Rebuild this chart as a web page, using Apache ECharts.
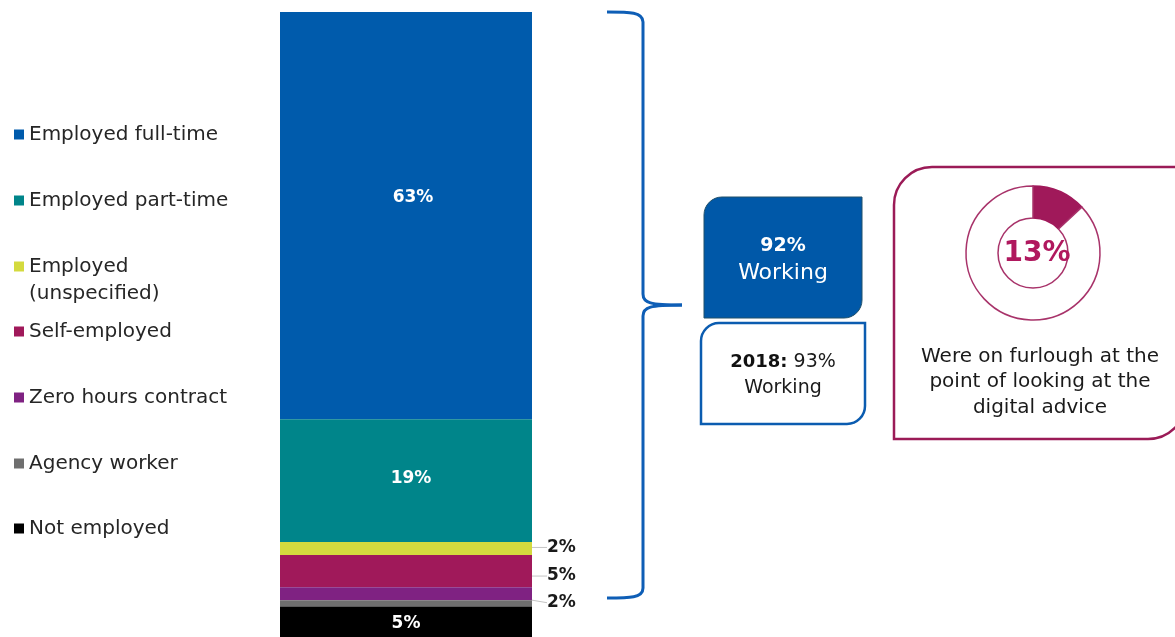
<!DOCTYPE html>
<html>
<head>
<meta charset="utf-8">
<title>Employment status</title>
<script src="https://cdn.jsdelivr.net/npm/echarts@6/dist/echarts.min.js"></script>
<style>
  html, body { margin: 0; padding: 0; background: #ffffff; }
  #chart { width: 1175px; height: 637px; }
</style>
</head>
<body>
<div id="chart"></div>
<script>
// Employment status of users (share of respondents, %)
const categories = ['All users'];
const statusNames = [
  'Employed full-time',
  'Employed part-time',
  'Employed (unspecified)',
  'Self-employed',
  'Zero hours contract',
  'Agency worker',
  'Not employed'
];
const statusShares = [63, 19, 2, 5, 2, 1, 5];
const statusColors = ['#005BAC', '#00858A', '#D4DA3E', '#A0195A', '#7F2282', '#6F6F6F', '#000000'];

// Headline figures shown beside the bar
const workingNow = 92;
const working2018 = 93;
const furloughShare = [13, 87];

const FONT = '"DejaVu Sans", sans-serif';
const chart = echarts.init(document.getElementById('chart'), null, { renderer: 'canvas' });

// label placement per segment: big segments inside, thin ones outside with a guide line
const outsideShift = {
  'Employed (unspecified)': { dx: 10, dy: -1 },
  'Self-employed': { dx: 10, dy: 5 },
  'Zero hours contract': { dx: 10, dy: 9 }
};
const insideOffset = {
  'Employed full-time': [7, -18],
  'Employed part-time': [5, -2],
  'Not employed': [0, 2]
};

const series = statusNames.map((name, i) => {
  const inside = insideOffset[name];
  const outside = outsideShift[name];
  const s = {
    name: name,
    type: 'bar',
    stack: 'status',
    barWidth: '100%',
    data: [statusShares[i]],
    itemStyle: { color: statusColors[i] },
    silent: true,
    label: { show: false }
  };
  if (inside) {
    s.label = {
      show: true, position: 'inside', offset: inside, formatter: '{c}%',
      color: '#ffffff', fontFamily: FONT, fontWeight: 'bold', fontSize: 17
    };
  } else if (outside) {
    s.label = {
      show: true, position: 'right', distance: 5, formatter: '{c}%',
      color: '#1a1a1a', fontFamily: FONT, fontWeight: 'bold', fontSize: 17
    };
    s.labelLayout = { dx: outside.dx, dy: outside.dy };
    s.labelLine = { show: true, lineStyle: { color: '#c4c4c4', width: 1 } };
  }
  return s;
});

// one legend block per entry so each row sits at its own height
const legendCenters = [134, 200, 266, 331, 397, 463, 528];
const legends = statusNames.map((name, i) => {
  const multi = name === 'Employed (unspecified)';
  return {
    data: [name],
    orient: 'vertical',
    left: 14,
    top: multi ? legendCenters[i] - 40 : legendCenters[i] - 13,
    padding: 0,
    itemWidth: 10,
    itemHeight: 10,
    icon: 'rect',
    selectedMode: false,
    // an empty first line keeps the marker level with "Employed"
    formatter: multi ? '\nEmployed\n(unspecified)' : '{name}',
    textStyle: { fontFamily: FONT, fontSize: 20, color: '#262626', lineHeight: 27 }
  };
});

series.push({
  type: 'pie',
  center: [1033, 253],
  radius: [35, 67],
  startAngle: 90,
  clockwise: true,
  silent: true,
  labelLine: { show: false },
  data: [
    {
      value: furloughShare[0], name: 'On furlough',
      itemStyle: { color: '#A0195A', borderColor: '#A0195A', borderWidth: 1.5 },
      label: {
        show: true, position: 'center', formatter: '{c}%', offset: [4, 1],
        color: '#B0185E', fontFamily: FONT, fontWeight: 'bold', fontSize: 28
      }
    },
    {
      value: furloughShare[1], name: 'Not on furlough',
      itemStyle: { color: '#ffffff', borderColor: '#A8336A', borderWidth: 1.5 },
      label: { show: false }
    }
  ]
});

// curly bracket grouping the working categories
const braceStyle = { stroke: '#0E5EB6', lineWidth: 3, fill: 'none' };
const brace = [
  { type: 'bezierCurve', shape: { x1: 607, y1: 12, cpx1: 630, cpy1: 12, cpx2: 643, cpy2: 12, x2: 643, y2: 22 } },
  { type: 'line', shape: { x1: 643, y1: 22, x2: 643, y2: 294 } },
  { type: 'bezierCurve', shape: { x1: 643, y1: 294, cpx1: 643, cpy1: 303, cpx2: 650, cpy2: 305, x2: 682, y2: 305 } },
  { type: 'bezierCurve', shape: { x1: 682, y1: 305, cpx1: 650, cpy1: 305, cpx2: 643, cpy2: 307, x2: 643, y2: 316 } },
  { type: 'line', shape: { x1: 643, y1: 316, x2: 643, y2: 588 } },
  { type: 'bezierCurve', shape: { x1: 643, y1: 588, cpx1: 643, cpy1: 598, cpx2: 630, cpy2: 598, x2: 607, y2: 598 } }
].map(el => Object.assign(el, { style: braceStyle, silent: true }));

const option = {
  animation: false,
  backgroundColor: '#ffffff',
  grid: { left: 280, width: 252, top: 12, bottom: 0 },
  xAxis: { type: 'category', data: categories, show: false },
  // the axis stops just short of the full stack, so the last segment runs off the lower edge
  yAxis: { type: 'value', min: 0, max: 96.7, inverse: true, show: false },
  legend: legends,
  series: series,
  graphic: brace.concat([
    {
      type: 'rect',
      shape: { x: 704, y: 197, width: 158, height: 121, r: [18, 0, 18, 0] },
      style: { fill: '#0058A8', stroke: '#20506a', lineWidth: 1 }
    },
    {
      type: 'text',
      x: 783, y: 260,
      style: {
        text: '{b|' + workingNow + '%}\n{n|Working}',
        align: 'center', verticalAlign: 'middle',
        rich: {
          b: { fontFamily: FONT, fontSize: 19, fontWeight: 'bold', fill: '#ffffff', lineHeight: 27, align: 'center' },
          n: { fontFamily: FONT, fontSize: 22, fill: '#ffffff', lineHeight: 27, align: 'center' }
        }
      }
    },
    {
      type: 'rect',
      shape: { x: 701, y: 323, width: 164, height: 101, r: [18, 0, 18, 0] },
      style: { fill: '#ffffff', stroke: '#0B5CB0', lineWidth: 2.5 }
    },
    {
      type: 'text',
      x: 783, y: 375,
      style: {
        text: '{b|2018:}{n| ' + working2018 + '%}\n{n|Working}',
        align: 'center', verticalAlign: 'middle',
        rich: {
          b: { fontFamily: FONT, fontSize: 18, fontWeight: 'bold', fill: '#111111', lineHeight: 26 },
          n: { fontFamily: FONT, fontSize: 19, fill: '#1a1a1a', lineHeight: 26 }
        }
      }
    },
    {
      type: 'rect',
      shape: { x: 894, y: 167, width: 292, height: 272, r: [38, 0, 38, 0] },
      style: { fill: 'none', stroke: '#9B1B57', lineWidth: 2.5 }
    },
    {
      type: 'text',
      x: 1040, y: 382,
      style: {
        text: 'Were on furlough at the\npoint of looking at the\ndigital advice',
        align: 'center', verticalAlign: 'middle',
        fontFamily: FONT, fontSize: 20, lineHeight: 25.5, fill: '#1a1a1a'
      }
    }
  ])
};

chart.setOption(option);
</script>
</body>
</html>
